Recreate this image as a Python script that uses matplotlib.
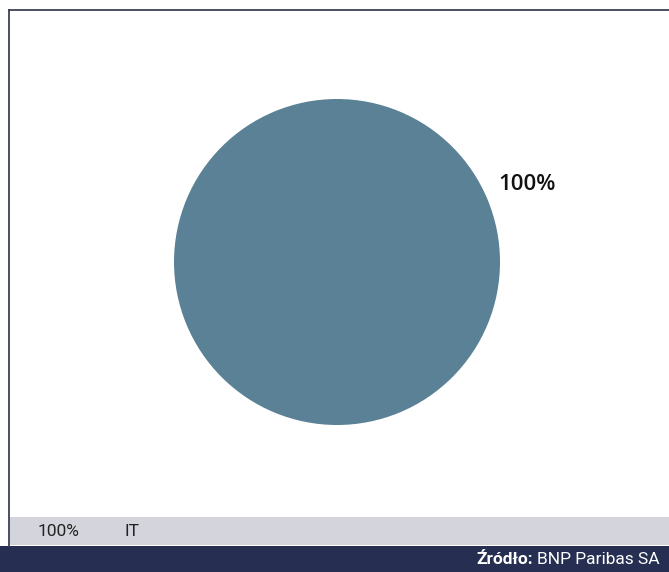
import matplotlib.pyplot as plt
from matplotlib.lines import Line2D
from matplotlib.patches import Rectangle

# data
categories = ["IT"]
shares = [100]
slice_colors = ["#5b8196"]
legend_text = ["100%", "IT"]
source_bold = "Źródło:"
source_text = "BNP Paribas SA"

W, H = 669, 572
fig = plt.figure(figsize=(W / 100, H / 100), dpi=100)
fig.patch.set_facecolor("white")

def fx(px):
  return px / W

def fy(py):
  return 1 - py / H

# pie axis, centred at (337, 262) px with radius ~163 px
r = 163
ax = fig.add_axes([fx(337 - r), fy(262 + r), 2 * r / W, 2 * r / H])
wedges, texts = ax.pie(shares, labels=["%d%%" % s for s in shares], colors=slice_colors,
                       startangle=-154.5, labeldistance=1.1, radius=1,
                       textprops=dict(fontsize=16, fontweight="semibold", color="#111111",
                                      family=["Open Sans", "DejaVu Sans"]))
for t in texts:
  t.set_va("center")
ax.set_xlim(-1, 1)
ax.set_ylim(-1, 1)
ax.set_aspect("auto")
ax.axis("off")

# frame lines (top and left)
frame_col = "#3c4158"
fig.add_artist(Line2D([fx(8.5), 1], [fy(9.5), fy(9.5)], color=frame_col, lw=1.3))
fig.add_artist(Line2D([fx(8.5), fx(8.5)], [fy(9.5), fy(546)], color=frame_col, lw=1.3))

# grey legend band
fig.add_artist(Rectangle((fx(9), fy(545)), 1, (545 - 517) / H, facecolor="#d4d5dc",
                         edgecolor="none", transform=fig.transFigure))
narrow = ["Roboto", "DejaVu Sans"]
fig.text(fx(38), fy(531.5), legend_text[0], fontsize=12.5, color="#222222", va="center",
         family=narrow)
fig.text(fx(124), fy(531.5), legend_text[1], fontsize=12.5, color="#222222", va="center",
         family=narrow)

# dark source band
fig.add_artist(Rectangle((0, 0), 1, (572 - 546) / H, facecolor="#262f52",
                         edgecolor="none", transform=fig.transFigure))
t2 = fig.text(fx(660), fy(560), source_text, fontsize=12.5, color="white", va="center",
              ha="right", family=narrow)
fig.canvas.draw()
bb = t2.get_window_extent()
fig.text(bb.x0 / W - fx(4), fy(560), source_bold, fontsize=12.5, color="white", va="center",
         ha="right", fontweight="bold", family=narrow)

fig.savefig("out.png", dpi=100)
